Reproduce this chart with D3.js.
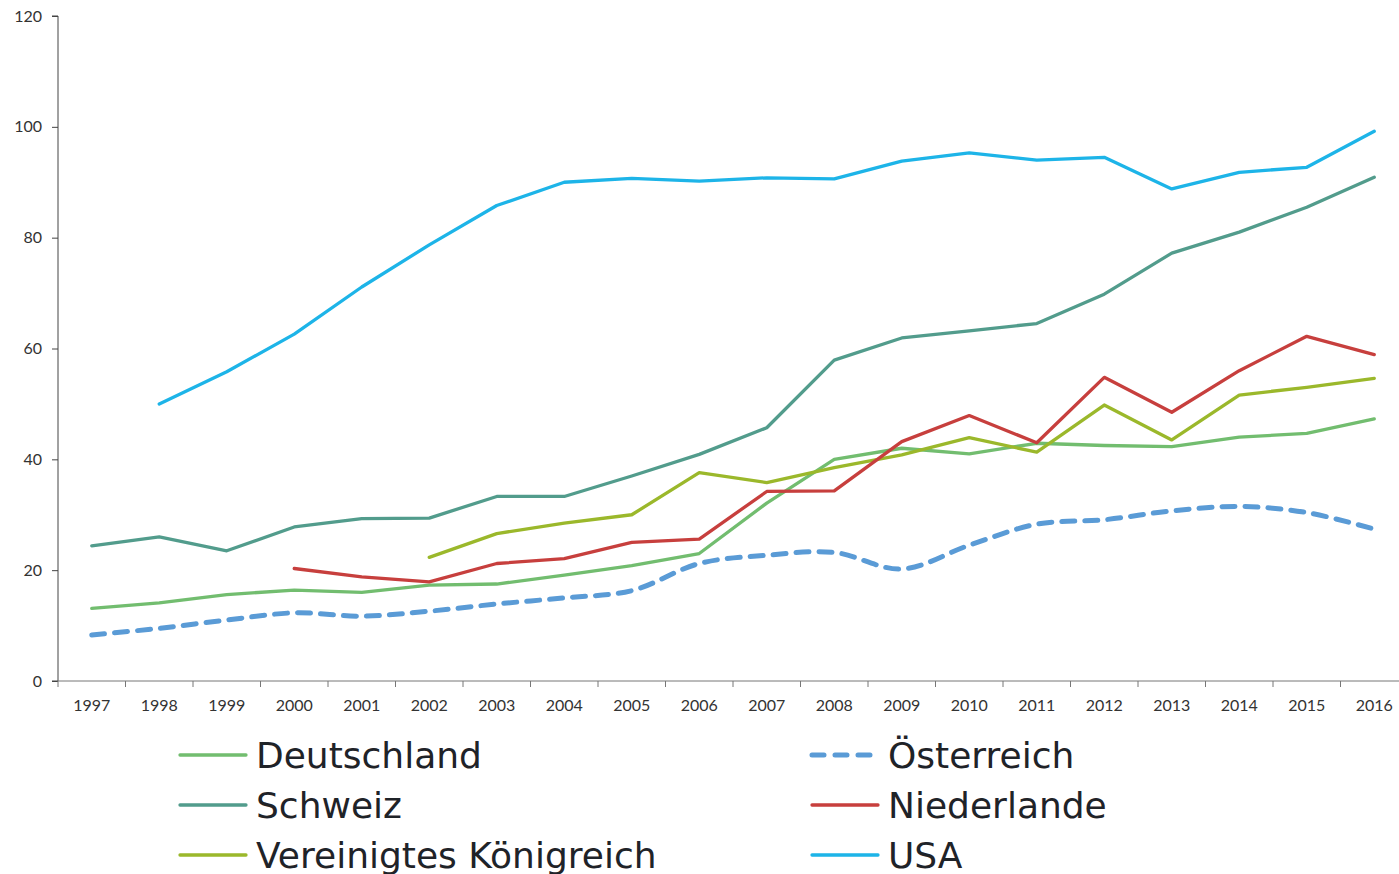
<!DOCTYPE html>
<html lang="de">
<head>
<meta charset="UTF-8">
<title>Linienchart</title>
<script src="https://d3js.org/d3.v7.min.js"></script>
<style>
  body { margin: 0; background: #fff; }
  svg { display: block; }
</style>
</head>
<body>
<svg id="chart"></svg>
<script>
const years = ["1997","1998","1999","2000","2001","2002","2003","2004","2005","2006",
               "2007","2008","2009","2010","2011","2012","2013","2014","2015","2016"];
const yTicks = [0, 20, 40, 60, 80, 100, 120];

// null = no value for that year
const deutschland = [13.1,14.1,15.6,16.4,16.0,17.3,17.5,19.1,20.8,23.0,32.1,40.0,42.0,41.0,42.9,42.5,42.3,44.0,44.7,47.3];
const oesterreich = [8.3,9.5,11.0,12.3,11.7,12.6,13.9,15.0,16.3,21.2,22.7,23.2,20.2,24.5,28.3,29.1,30.7,31.5,30.4,27.4];
const schweiz     = [24.4,26.0,23.5,27.8,29.3,29.4,33.3,33.3,37.0,40.9,45.7,57.9,61.9,63.2,64.5,69.8,77.2,81.0,85.5,90.9];
const niederlande = [null,null,null,20.3,18.8,17.9,21.2,22.1,25.0,25.6,34.2,34.3,43.2,47.9,43.0,54.8,48.5,56.0,62.2,58.9];
const vk          = [null,null,null,null,null,22.3,26.6,28.5,30.0,37.6,35.8,38.5,40.8,43.9,41.3,49.8,43.5,51.6,53.0,54.6];
const usa         = [null,50.0,55.8,62.6,71.1,78.7,85.8,90.0,90.7,90.2,90.8,90.6,93.8,95.3,94.0,94.5,88.8,91.8,92.7,99.2];

const series = [
  { name: "Deutschland", values: deutschland, color: "#72bd6f", dashed: false },
  { name: "Schweiz", values: schweiz, color: "#529c8c", dashed: false },
  { name: "Vereinigtes Königreich", values: vk, color: "#9bb82b", dashed: false },
  { name: "Österreich", values: oesterreich, color: "#5a9bd6", dashed: true },
  { name: "Niederlande", values: niederlande, color: "#c73f3d", dashed: false },
  { name: "USA", values: usa, color: "#1db4e8", dashed: false }
];

const width = 1399, height = 874;
const font = "'Lato', 'DejaVu Sans', sans-serif";
const legendFont = "'DejaVu Sans', sans-serif";
const svg = d3.select("#chart").attr("width", width).attr("height", height);

const plotLeft = 58, plotTop = 16, plotBottom = 681;
const x = d3.scaleBand().domain(years).range([plotLeft, plotLeft + 20 * 67.5]);
const y = d3.scaleLinear().domain([0, 120]).range([plotBottom, plotTop]);

// y axis
const yAxis = svg.append("g").attr("transform", `translate(${plotLeft},0)`)
  .call(d3.axisLeft(y).tickValues(yTicks).tickSize(6).tickPadding(10));
yAxis.select(".domain").attr("stroke", "#444").attr("d", `M-6,${plotBottom}H0V${plotTop}H-6`);
yAxis.selectAll(".tick line").attr("stroke", "#444");
yAxis.selectAll("text").attr("font-family", font).attr("font-size", 16).attr("fill", "#333");

// x axis with ticks between categories
const xAxis = svg.append("g").attr("transform", `translate(0,${plotBottom})`)
  .call(d3.axisBottom(x).tickSize(0).tickPadding(19));
xAxis.select(".domain").attr("stroke", "#777").attr("d", `M${plotLeft},0H${width}`);
xAxis.selectAll("text").attr("font-family", font).attr("font-size", 16).attr("fill", "#333");
xAxis.selectAll(".tick-sep").data(years).enter().append("line")
  .attr("x1", d => x(d)).attr("x2", d => x(d))
  .attr("y1", 0).attr("y2", 6).attr("stroke", "#777");

const cx = d => x(d) + x.bandwidth() / 2;

// lines
series.forEach(s => {
  const pts = years.map((yr, i) => ({ yr, v: s.values[i] }));
  const line = d3.line()
    .defined(d => d.v !== null)
    .x(d => cx(d.yr))
    .y(d => y(d.v))
    .curve(s.dashed ? d3.curveCatmullRom : d3.curveLinear);
  const p = svg.append("path").datum(pts)
    .attr("d", line)
    .attr("fill", "none")
    .attr("stroke", s.color)
    .attr("stroke-linejoin", "round")
    .attr("stroke-linecap", "round");
  if (s.dashed) {
    p.attr("stroke-width", 5).attr("stroke-dasharray", "13,10");
  } else {
    p.attr("stroke-width", 3.3);
  }
});

// legend (bottom row is cut by the page edge, as in the source)
const legendCols = [180, 812];
const legendRows = [755, 805, 855];
const legend = svg.append("g");
series.forEach((s, i) => {
  const col = Math.floor(i / 3), row = i % 3;
  const lx = legendCols[col], ly = legendRows[row];
  const g = legend.append("g").attr("transform", `translate(${lx},${ly})`);
  g.append("line")
    .attr("x1", 0).attr("x2", 66).attr("y1", 0).attr("y2", 0)
    .attr("stroke", s.color)
    .attr("stroke-linecap", "round")
    .attr("stroke-width", s.dashed ? 5 : 3.3)
    .attr("stroke-dasharray", s.dashed ? "12,11" : null);
  g.append("text")
    .attr("x", 76).attr("y", 0).attr("dy", "0.36em")
    .attr("font-family", legendFont).attr("font-size", 36)
    .attr("fill", "#1f2328")
    .text(s.name);
});
</script>
</body>
</html>
